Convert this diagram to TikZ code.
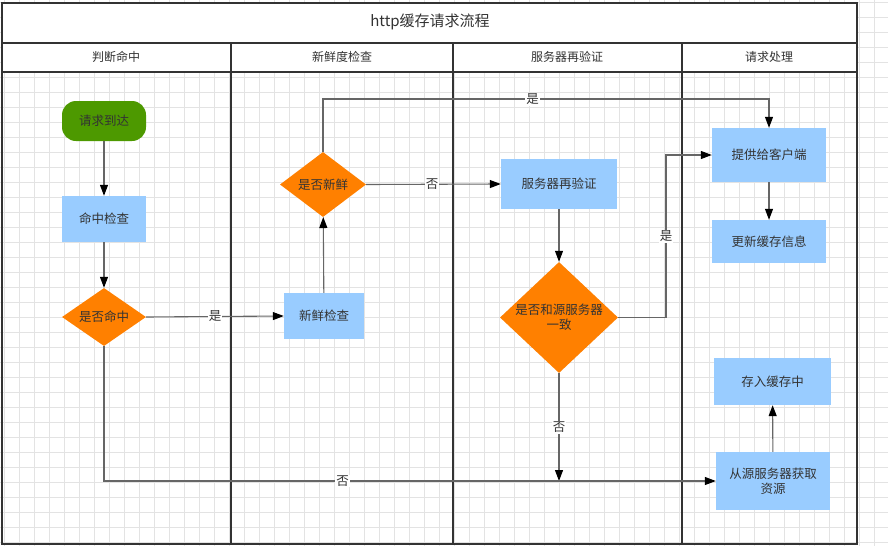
\documentclass[tikz,border=0pt]{standalone}
\usepackage{fontspec}
\setmainfont{Liberation Sans}
\newfontfamily\cjk{Noto Sans CJK SC}
\usetikzlibrary{shapes.geometric,arrows.meta}
\definecolor{gridc}{HTML}{E3E3E3}
\definecolor{frm}{HTML}{333333}
\definecolor{txt}{HTML}{333333}
\definecolor{grn}{HTML}{4D9900}
\definecolor{blu}{HTML}{99CCFF}
\definecolor{org}{HTML}{FF8000}
\definecolor{edg}{HTML}{666666}
\tikzset{
  every node/.style={font=\cjk\fontsize{12.5}{15}\selectfont, text=txt},
  frame/.style={draw=frm, line width=1.8pt},
  term/.style={rectangle, rounded corners=14pt, fill=grn, inner sep=0pt},
  proc/.style={rectangle, fill=blu, inner sep=0pt, align=center},
  dec/.style={diamond, fill=org, inner sep=0pt},
  flow/.style={draw=edg, line width=1.1pt, -{Triangle[length=11pt,width=8pt,color=black]}},
  lbl/.style={fill=white, inner sep=1pt},
  lane/.style={font=\cjk\fontsize{12}{14}\selectfont},
}
\begin{document}
\begin{tikzpicture}[x=1pt,y=-1pt]
\useasboundingbox (0,0) rectangle (888,546);
\fill[white] (0,0) rectangle (888,546);
% grid
\foreach \i in {0,...,58} {
  \pgfmathsetmacro{\xx}{4.3+15*\i}
  \draw[gridc, line width=0.7pt] (\xx,0) -- (\xx,546);
}
\foreach \j in {0,...,36} {
  \pgfmathsetmacro{\yy}{2.7+15*\j}
  \draw[gridc, line width=0.7pt] (0,\yy) -- (888,\yy);
}
% title and header backgrounds
\fill[white] (2,3) rectangle (857,72);
% frame
\draw[frame] (2,3) rectangle (857,544);
\draw[frame] (2,43) -- (857,43);
\draw[frame] (2,72) -- (857,72);
\draw[frame] (231,43) -- (231,544);
\draw[frame] (453,43) -- (453,544);
\draw[frame] (682,43) -- (682,544);
\node[font=\cjk\fontsize{15}{18}\selectfont] (title) at (430,22) {http缓存请求流程};
\node[lane] (h1) at (116,57) {判断命中};
\node[lane] (h2) at (342,57) {新鲜度检查};
\node[lane] (h3) at (567,57) {服务器再验证};
\node[lane] (h4) at (769,57) {请求处理};
% nodes
\node[term, minimum width=84pt, minimum height=40pt] (start) at (104,121) {请求到达};
\node[proc, minimum width=84pt, minimum height=46pt] (hitchk) at (104,219) {命中检查};
\node[dec, minimum width=84pt, minimum height=58pt, label=center:{是否命中}] (ishit) at (104,317) {};
\node[proc, minimum width=80pt, minimum height=46pt] (freshchk) at (324,316) {新鲜检查};
\node[dec, minimum width=86pt, minimum height=65pt, label=center:{是否新鲜}] (isfresh) at (323,184.5) {};
\node[proc, minimum width=116pt, minimum height=50pt] (reval) at (559,184) {服务器再验证};
\node[dec, minimum width=118pt, minimum height=111pt, label={[align=center]center:{是否和源服务器\\一致}}] (same) at (559,317.5) {};
\node[proc, minimum width=114pt, minimum height=54pt] (serve) at (769,155) {提供给客户端};
\node[proc, minimum width=114pt, minimum height=43pt] (update) at (769,241.5) {更新缓存信息};
\node[proc, minimum width=117pt, minimum height=47pt] (store) at (772.5,381.5) {存入缓存中};
\node[proc, minimum width=114pt, minimum height=58pt] (fetch) at (773,481) {从源服务器获取\\资源};
\coordinate (nend) at (559,481);
% edges
\draw[flow] (start) -- (hitchk);
\draw[flow] (hitchk) -- (ishit);
\draw[flow] (ishit.east) -- node[lbl, pos=0.5] {是} (freshchk.west);
\draw[flow] (freshchk) -- (isfresh);
\draw[flow] (isfresh.north) -- (323,99) -- node[lbl, pos=0.47] {是} (769,99) -- (serve.north);
\draw[flow] (isfresh.east) -- node[lbl, pos=0.49] {否} (reval.west);
\draw[flow] (reval) -- (same);
\draw[flow] (same.east) -- (666,317.5) -- node[lbl, pos=0.5] {是} (666,155) -- (serve.west);
\draw[flow] (same.south) -- node[lbl, pos=0.5] {否} (nend);
\draw[flow] (ishit.south) -- (104,481) -- node[lbl, pos=0.39] {否} (fetch.west);
\draw[flow] (serve) -- (update);
\draw[flow] (fetch) -- (store);
\end{tikzpicture}
\end{document}
